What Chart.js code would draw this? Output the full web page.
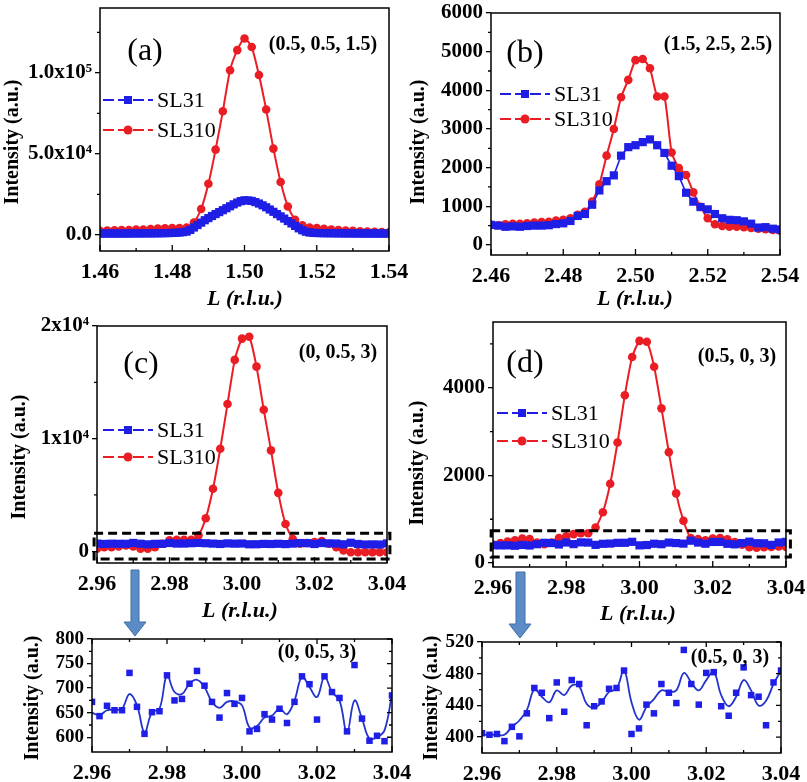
<!DOCTYPE html>
<html>
<head>
<meta charset="utf-8">
<script src="https://cdn.jsdelivr.net/npm/chart.js@4.4.0/dist/chart.umd.min.js"></script>
<style>
html, body { margin:0; padding:0; background:#fff; overflow:hidden; }
#wrap { position:relative; width:807px; height:782px; overflow:hidden; background:#fff; }
#wrap canvas, #wrap svg { position:absolute; left:0; top:0; }
</style>
</head>
<body>
<div id="wrap">
  <canvas id="pa" width="807" height="782"></canvas>
  <canvas id="pb" width="807" height="782"></canvas>
  <canvas id="pc" width="807" height="782"></canvas>
  <canvas id="pd" width="807" height="782"></canvas>
  <canvas id="pe" width="807" height="782"></canvas>
  <canvas id="pf" width="807" height="782"></canvas>
  <svg width="807" height="782">
    <polygon points="131,570 139,570 139,622 146,622 135,636 124,622 131,622" fill="#5b8cc8" stroke="#3f6fa5" stroke-width="1"/>
    <polygon points="516,572 525,572 525,624 531,624 520,638 509,624 516,624" fill="#5b8cc8" stroke="#3f6fa5" stroke-width="1"/>
  </svg>
</div>
<script>
// ---- data ----
// L values, 0.002 steps
const LA = [1.460,1.462,1.464,1.466,1.468,1.470,1.472,1.474,1.476,1.478,1.480,1.482,1.484,1.486,1.488,1.490,1.492,1.494,1.496,1.498,
  1.500,1.502,1.504,1.506,1.508,1.510,1.512,1.514,1.516,1.518,1.520,1.522,1.524,1.526,1.528,1.530,1.532,1.534,1.536,1.538,1.540];
// L values, 0.001 steps (SL31 in panel a)
const LA_fine = [1.460,1.461,1.462,1.463,1.464,1.465,1.466,1.467,1.468,1.469,1.470,1.471,1.472,1.473,1.474,1.475,1.476,1.477,1.478,1.479,
  1.480,1.481,1.482,1.483,1.484,1.485,1.486,1.487,1.488,1.489,1.490,1.491,1.492,1.493,1.494,1.495,1.496,1.497,1.498,1.499,
  1.500,1.501,1.502,1.503,1.504,1.505,1.506,1.507,1.508,1.509,1.510,1.511,1.512,1.513,1.514,1.515,1.516,1.517,1.518,1.519,
  1.520,1.521,1.522,1.523,1.524,1.525,1.526,1.527,1.528,1.529,1.530,1.531,1.532,1.533,1.534,1.535,1.536,1.537,1.538,1.539,1.540];
const LB = [2.460,2.462,2.464,2.466,2.468,2.470,2.472,2.474,2.476,2.478,2.480,2.482,2.484,2.486,2.488,2.490,2.492,2.494,2.496,2.498,
  2.500,2.502,2.504,2.506,2.508,2.510,2.512,2.514,2.516,2.518,2.520,2.522,2.524,2.526,2.528,2.530,2.532,2.534,2.536,2.538,2.540];
const LC = [2.960,2.962,2.964,2.966,2.968,2.970,2.972,2.974,2.976,2.978,2.980,2.982,2.984,2.986,2.988,2.990,2.992,2.994,2.996,2.998,
  3.000,3.002,3.004,3.006,3.008,3.010,3.012,3.014,3.016,3.018,3.020,3.022,3.024,3.026,3.028,3.030,3.032,3.034,3.036,3.038,3.040];

// (a) (0.5, 0.5, 1.5)
const a_SL31 = [800,790,820,800,790,810,830,800,820,850,840,860,870,880,900,920,950,980,1020,1080,
  1150,1250,1400,1650,2000,3000,4500,6000,7500,9000,10300,11600,12800,14000,15200,16400,17600,18800,19900,20800,
  21300,21200,20900,20200,19300,18200,17000,15600,14200,12800,11400,10000,8500,7000,5500,4000,2800,1900,1400,1200,
  1100,1050,1000,980,950,930,900,890,870,850,840,830,820,800,800,790,780,780,770,760,760];
const a_SL310 = [2500,2600,2800,2900,3000,3200,3300,3500,3800,4000,4100,4200,4500,7600,15900,31500,52600,76300,101600,114000,
  121200,115900,98600,77300,53200,32600,17500,9300,5800,4500,4100,3700,3300,3000,2700,2400,2200,2000,1800,1700,1600];

// (b) (1.5, 2.5, 2.5)
const b_SL31 = [520,500,470,480,470,490,500,500,510,540,560,620,750,800,1040,1410,1650,1800,2310,2530,
  2580,2660,2730,2580,2380,2050,1780,1350,1120,980,920,800,690,650,640,610,550,450,460,420,400];
const b_SL310 = [520,510,535,545,545,560,580,590,600,630,650,690,780,860,1120,1570,2310,3000,3820,4270,
  4780,4810,4570,3840,3840,2390,1990,1810,1360,990,690,535,490,475,475,460,440,420,405,390,370];

// (c) (0, 0.5, 3)
const c_SL31 = [672,643,664,655,655,731,662,607,651,653,726,675,678,709,735,705,672,640,690,668,
  680,612,617,647,636,658,629,672,724,708,636,724,692,680,612,747,638,593,603,592,685];
const c_SL31_fit = [650,645,655,656,658,688,665,610,651,658,726,692,688,709,717,702,672,660,672,673,
  665,620,623,640,644,658,647,675,723,702,682,723,692,675,610,675,638,597,600,614,688];
const c_SL310 = [210,360,360,420,510,420,210,210,360,660,960,1020,1020,1020,1420,2920,5540,9100,13070,16990,
  18880,19040,16390,12560,8950,5180,2410,1080,660,720,810,900,660,360,60,-90,-90,-90,-90,-90,-90];

// (d) (0.5, 0, 3)
const d_SL31 = [405,403,404,395,413,401,430,462,456,424,469,432,472,467,415,439,445,461,462,484,
  404,411,441,430,467,456,443,510,467,441,481,482,439,427,456,488,453,451,415,469,484];
const d_SL31_fit = [403,403,403,403,413,421,434,460,451,444,459,453,465,464,442,437,444,457,461,484,
  444,422,438,448,459,457,459,481,469,459,472,482,453,439,451,472,459,440,446,467,484];
const d_SL310 = [420,455,490,520,560,550,470,430,470,570,610,660,680,680,810,1160,1810,2750,3830,4700,
  5070,5050,4480,3530,2530,1590,964,570,545,520,560,570,540,480,420,360,350,360,370,380,370];

// ticks
const xTicksA = [1.46, 1.48, 1.50, 1.52, 1.54], xMinorA = [1.47, 1.49, 1.51, 1.53];
const xTicksB = [2.46, 2.48, 2.50, 2.52, 2.54], xMinorB = [2.47, 2.49, 2.51, 2.53];
const xTicksC = [2.96, 2.98, 3.00, 3.02, 3.04], xMinorC = [2.97, 2.99, 3.01, 3.03];
const yTicksA = [0, 50000, 100000], yLabelsA = ['0.0', '5.0x10\u2074', '1.0x10\u2075'], yMinorA = [25000, 75000, 125000];
const yTicksB = [0, 1000, 2000, 3000, 4000, 5000, 6000], yMinorB = [500, 1500, 2500, 3500, 4500, 5500];
const yTicksC = [0, 10000, 20000], yLabelsC = ['0', '1x10\u2074', '2x10\u2074'], yMinorC = [5000, 15000];
const yTicksD = [0, 2000, 4000], yMinorD = [1000, 3000, 5000];
const yTicksE = [600, 650, 700, 750, 800], yMinorE = [625, 675, 725, 775];
const yTicksF = [400, 440, 480, 520], yMinorF = [420, 460, 500];

const RED = '#ea1d25', BLUE = '#1e1ee6', FIT = '#2333cc';
const SERIF = '"Liberation Serif", "Times New Roman", serif';
Chart.defaults.font.family = SERIF;
Chart.defaults.color = '#000';

const pts = (xs, ys) => xs.map((x, i) => ({ x, y: ys[i] }));

// decorations drawn per panel (frame, x ticks inward, minor ticks, labels, legend, dashed box)
const DECO = {};
Chart.register({
  id: 'deco',
  afterDatasetsDraw(chart) {
    const o = DECO[chart.canvas.id];
    if (!o) return;
    const { ctx, chartArea: a, scales: { x, y } } = chart;
    ctx.save();
    if (o.box) {
      ctx.strokeStyle = '#000'; ctx.lineWidth = 3; ctx.setLineDash([9, 5]);
      const x0 = x.getPixelForValue(o.box[0]), x1 = x.getPixelForValue(o.box[1]);
      const y0 = y.getPixelForValue(o.box[3]), y1 = y.getPixelForValue(o.box[2]);
      ctx.strokeRect(x0, y0, x1 - x0, y1 - y0);
      ctx.setLineDash([]);
    }
    ctx.strokeStyle = '#000'; ctx.lineWidth = 1.5;
    ctx.strokeRect(a.left, a.top, a.right - a.left, a.bottom - a.top);
    ctx.lineWidth = 1.3;
    ctx.beginPath();
    o.xT.forEach(v => { const px = x.getPixelForValue(v); ctx.moveTo(px, a.bottom); ctx.lineTo(px, a.bottom - 6); });
    o.minorX.forEach(v => { const px = x.getPixelForValue(v); ctx.moveTo(px, a.bottom); ctx.lineTo(px, a.bottom - 3); });
    o.minorY.forEach(v => { const py = y.getPixelForValue(v); ctx.moveTo(a.left, py); ctx.lineTo(a.left - 3, py); });
    if (o.mirror) {
      o.xT.forEach(v => { const px = x.getPixelForValue(v); ctx.moveTo(px, a.top); ctx.lineTo(px, a.top + 5); });
      o.minorX.forEach(v => { const px = x.getPixelForValue(v); ctx.moveTo(px, a.top); ctx.lineTo(px, a.top + 3); });
      o.yT.forEach(v => { const py = y.getPixelForValue(v); ctx.moveTo(a.right, py); ctx.lineTo(a.right - 5, py); });
      o.minorY.forEach(v => { const py = y.getPixelForValue(v); ctx.moveTo(a.right, py); ctx.lineTo(a.right - 3, py); });
    }
    ctx.stroke();
    ctx.fillStyle = '#000';
    ctx.textAlign = 'center'; ctx.textBaseline = 'middle';
    (o.texts || []).forEach(t => {
      ctx.save();
      ctx.font = t.f;
      ctx.translate(t.x, t.y);
      if (t.rot) ctx.rotate(-Math.PI / 2);
      ctx.fillText(t.s, 0, 0);
      ctx.restore();
    });
    (o.legend || []).forEach(g => {
      ctx.strokeStyle = g.c; ctx.fillStyle = g.c; ctx.lineWidth = 2.2;
      ctx.setLineDash([11, 4]);
      ctx.beginPath(); ctx.moveTo(g.x0, g.y); ctx.lineTo(g.x1, g.y); ctx.stroke();
      ctx.setLineDash([]);
      const xm = (g.x0 + g.x1) / 2;
      if (g.sq) ctx.fillRect(xm - 4, g.y - 4, 8, 8);
      else { ctx.beginPath(); ctx.arc(xm, g.y, 4.5, 0, Math.PI * 2); ctx.fill(); }
      ctx.fillStyle = '#000'; ctx.font = '22px ' + SERIF;
      ctx.textAlign = 'left';
      ctx.fillText(g.s, g.x1 + 4, g.y + 1);
      ctx.textAlign = 'center';
    });
    ctx.restore();
  }
});

function panel(id, area, xr, yr, xT, yT, yLab, datasets, xSize, ySize) {
  const [l, t, r, b] = area;
  const W = 807, H = 782, YW = 90, XH = Math.min(40, H - b);
  const zero = s => { s.paddingLeft = s.paddingRight = s.paddingTop = s.paddingBottom = 0; };
  return new Chart(document.getElementById(id), {
    type: 'scatter',
    data: { datasets },
    options: {
      responsive: false, animation: false, devicePixelRatio: 1,
      layout: { padding: { left: l - YW, top: t, right: W - r, bottom: H - b - XH } },
      plugins: { legend: { display: false }, tooltip: { enabled: false } },
      scales: {
        x: {
          type: 'linear', min: xr[0], max: xr[1],
          afterBuildTicks: s => { s.ticks = xT.map(v => ({ value: v })); },
          afterFit: s => { s.height = XH; zero(s); },
          grid: { display: false, drawTicks: false },
          border: { display: false },
          ticks: { font: { size: xSize, weight: 'bold' }, padding: 8, maxRotation: 0, autoSkip: false,
                   callback: v => v.toFixed(2) }
        },
        y: {
          type: 'linear', min: yr[0], max: yr[1],
          afterBuildTicks: s => { s.ticks = yT.map(v => ({ value: v })); },
          afterFit: s => { s.width = YW; zero(s); },
          grid: { drawOnChartArea: false, tickLength: 5, color: '#000', lineWidth: 1.3 },
          border: { display: false },
          ticks: { font: { size: ySize, weight: 'bold' }, padding: 3, autoSkip: false,
                   callback: v => yLab ? yLab[yT.indexOf(v)] : String(v) }
        }
      }
    }
  });
}

const sq = (data, r) => ({ data, showLine: true, borderColor: BLUE, backgroundColor: BLUE, borderWidth: 1.6,
  pointStyle: 'rect', pointRadius: r, pointBorderWidth: 0, tension: 0 });
const dot = data => ({ data, showLine: true, borderColor: RED, backgroundColor: RED, borderWidth: 2,
  pointStyle: 'circle', pointRadius: 4.3, pointBorderWidth: 0, tension: 0.2 });

const ytitle = (x, y) => ({ s: 'Intensity (a.u.)', x, y, rot: true, f: 'bold 20px ' + SERIF });
const xtitle = (x, y) => ({ s: 'L (r.l.u.)', x, y, f: 'italic bold 22px ' + SERIF });
const tag = (s, x, y) => ({ s, x, y, f: '32px ' + SERIF });
const hkl = (s, x, y) => ({ s, x, y, f: 'bold 20px ' + SERIF });
const leg = (x0, x1, y1, y2) => [
  { s: 'SL31', x0, x1, y: y1, c: BLUE, sq: true },
  { s: 'SL310', x0, x1, y: y2, c: RED, sq: false }
];

// (a)
DECO.pa = { xT: xTicksA, minorX: xMinorA, minorY: yMinorA,
  texts: [ytitle(13, 142), xtitle(245, 299), tag('(a)', 145, 52), hkl('(0.5, 0.5, 1.5)', 323, 45)],
  legend: leg(103, 153, 100, 130) };
panel('pa', [100, 8, 389, 251], [1.46, 1.54], [-10000, 140000], xTicksA, yTicksA, yLabelsA,
  [sq(pts(LA_fine, a_SL31), 5.8), dot(pts(LA, a_SL310))], 22, 21);

// (b)
DECO.pb = { xT: xTicksB, minorX: xMinorB, minorY: yMinorB,
  texts: [ytitle(419, 142), xtitle(635, 299), tag('(b)', 525, 54), hkl('(1.5, 2.5, 2.5)', 718, 45)],
  legend: leg(500, 550, 94, 119) };
panel('pb', [491, 13, 780, 255], [2.46, 2.54], [-260, 6000], xTicksB, yTicksB, null,
  [sq(pts(LB, b_SL31), 5.8), dot(pts(LB, b_SL310))], 22, 21);

// (c)
DECO.pc = { xT: xTicksC, minorX: xMinorC, minorY: yMinorC, box: [2.9592, 3.0408, -700, 1600],
  texts: [ytitle(20, 457), xtitle(240, 611), tag('(c)', 141, 365), hkl('(0, 0.5, 3)', 338, 353)],
  legend: leg(103, 153, 430, 457) };
panel('pc', [97, 326, 387, 563], [2.96, 3.04], [-1050, 20000], xTicksC, yTicksC, yLabelsC,
  [sq(pts(LC, c_SL31), 5.8), dot(pts(LC, c_SL310))], 22, 21);

// (d)
DECO.pd = { xT: xTicksC, minorX: xMinorC, minorY: yMinorD, box: [2.9595, 3.0412, 140, 735],
  texts: [ytitle(418, 463), xtitle(638, 614), tag('(d)', 525, 364), hkl('(0.5, 0, 3)', 737, 357)],
  legend: leg(497, 547, 413, 441) };
panel('pd', [493, 322, 786, 567], [2.96, 3.04], [-90, 5500], xTicksC, yTicksD, null,
  [sq(pts(LC, d_SL31), 5.8), dot(pts(LC, d_SL310))], 22, 21);

// zoomed SL31 at (0, 0.5, 3)
const fit = data => ({ data, showLine: true, borderColor: FIT, borderWidth: 1.8, pointRadius: 0, tension: 0.4 });
const dots = data => ({ data, showLine: false, backgroundColor: BLUE, pointStyle: 'rect', pointRadius: 4.6, pointBorderWidth: 0 });
DECO.pe = { minorX: xMinorC, minorY: yMinorE, mirror: true, xT: xTicksC, yT: yTicksE,
  texts: [ytitle(33, 698), hkl('(0, 0.5, 3)', 317, 653)] };
panel('pe', [92, 639, 392, 752], [2.96, 3.04], [570, 800], xTicksC, yTicksE, null,
  [dots(pts(LC, c_SL31)), fit(pts(LC, c_SL31_fit))], 22, 19);

// zoomed SL31 at (0.5, 0, 3)
DECO.pf = { minorX: xMinorC, minorY: yMinorF, mirror: true, xT: xTicksC, yT: yTicksF,
  texts: [ytitle(432, 698), hkl('(0.5, 0, 3)', 730, 658)] };
panel('pf', [482, 642, 781, 753], [2.96, 3.04], [380, 520], xTicksC, yTicksF, null,
  [dots(pts(LC, d_SL31)), fit(pts(LC, d_SL31_fit))], 22, 19);
</script>
</body>
</html>
